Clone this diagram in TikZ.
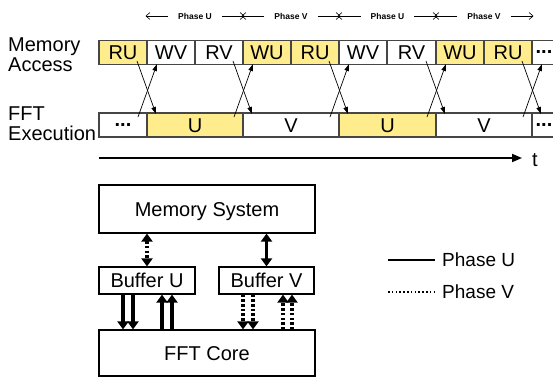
\documentclass[tikz,border=0pt]{standalone}
\usepackage{fontspec}
\setmainfont{Liberation Sans}
\usetikzlibrary{arrows.meta}
\definecolor{cellyellow}{RGB}{255,236,140}
\definecolor{edgegray}{RGB}{70,70,70}
\newcommand{\rsBig}{\fontsize{20}{22}\selectfont}
\newcommand{\rsHdr}{\fontsize{8.5}{10}\selectfont\bfseries}
\newcommand{\rsLeg}{\fontsize{19}{21}\selectfont}
\begin{document}
\begin{tikzpicture}[x=1pt,y=-1pt,
  cell/.style={draw=edgegray,line width=1.2pt,inner sep=0pt,minimum height=23.5pt,text height=14.5pt,text depth=0pt,font=\rsBig},
  ycell/.style={cell,fill=cellyellow},
  wcell/.style={cell,fill=white},
  dots/.style={text height=3pt,font=\rsBig\bfseries},
  lbl/.style={anchor=base west,inner sep=0pt,font=\rsBig},
  hdr/.style={inner sep=0pt,font=\rsHdr},
  harrow/.style={line width=0.6pt,-{Straight Barb[length=4pt,width=7pt]}},
  xarrow/.style={line width=0.7pt,-{Triangle[length=7pt,width=4.5pt]}},
  axisarrow/.style={line width=1.8pt,-{Triangle[length=10pt,width=8pt]}},
  blk/.style={draw,line width=1.2pt,inner sep=0pt,font=\rsBig,text height=14.5pt,text depth=0pt},
  solidarr/.style={line width=3.2pt,-{Triangle[length=8pt,width=11pt]}},
  solidarrb/.style={line width=3.2pt,{Triangle[length=8pt,width=11pt]}-{Triangle[length=8pt,width=11pt]}},
  dotarr/.style={solidarr,dash pattern=on 2.5pt off 2.2pt},
  dotarrb/.style={solidarrb,dash pattern=on 2.5pt off 2.2pt},
  legsolid/.style={line width=2pt},
  legdot/.style={line width=2pt,dash pattern=on 1.6pt off 2.2pt},
  leg/.style={anchor=west,inner sep=0pt,font=\rsLeg,text height=13.5pt,text depth=0pt}
]
\useasboundingbox (0,0) rectangle (553,377);
\clip (0,0) rectangle (553,377);

% header phases
\foreach \c/\a/\b/\t [count=\i] in {195/147/243/U, 291/243/339/V, 387.5/339/436/U, 484/436/532/V} {
  \node[hdr] (h\i) at (\c,16) {Phase \t};
  \coordinate (hl\i) at (\a-1.5,16);
  \coordinate (hr\i) at (\b+1.5,16);
  \draw[harrow] ([xshift=-10pt]h\i.west) -- (hl\i);
  \draw[harrow] ([xshift=10pt]h\i.east) -- (hr\i);
}

% row labels
\node[lbl] (lm1) at (8,52) {Memory};
\node[lbl] (lm2) at (8,72) {Access};
\node[lbl] (lf1) at (8,120) {FFT};
\node[lbl] (lf2) at (8,140) {Execution};

% memory access row
\node[ycell,minimum width=48pt] (m1) at (123,52.5) {RU};
\node[wcell,minimum width=48pt] (m2) at (171,52.5) {WV};
\node[wcell,minimum width=48pt] (m3) at (219,52.5) {RV};
\node[ycell,minimum width=48pt] (m4) at (267,52.5) {WU};
\node[ycell,minimum width=48pt] (m5) at (315,52.5) {RU};
\node[wcell,minimum width=48pt] (m6) at (363,52.5) {WV};
\node[wcell,minimum width=49pt] (m7) at (411.5,52.5) {RV};
\node[ycell,minimum width=48pt] (m8) at (460,52.5) {WU};
\node[ycell,minimum width=48pt] (m9) at (508,52.5) {RU};
\node[wcell,dots,minimum width=24pt] (m10) at (544,52.5) {...};

% FFT execution row
\node[wcell,dots,minimum width=48pt,minimum height=24pt] (f1) at (123,125) {...};
\node[ycell,minimum width=96pt,minimum height=24pt] (f2) at (195,125) {U};
\node[wcell,minimum width=96pt,minimum height=24pt] (f3) at (291,125) {V};
\node[ycell,minimum width=97pt,minimum height=24pt] (f4) at (387.5,125) {U};
\node[wcell,minimum width=96pt,minimum height=24pt] (f5) at (484,125) {V};
\node[wcell,dots,minimum width=24pt,minimum height=24pt] (f6) at (544,125) {...};

% crossing arrows
\foreach \b [count=\i] in {147,243,339,436,532} {
  \coordinate (dA\i) at (\b-10,61);
  \coordinate (dB\i) at (\b+9,114);
  \coordinate (uA\i) at (\b-9,117);
  \coordinate (uB\i) at (\b+10,64);
  \draw[xarrow] (dA\i) -- (dB\i);
  \draw[xarrow] (uA\i) -- (uB\i);
}

% time axis
\coordinate (t0) at (99,158);
\coordinate (t1) at (522,158);
\node[inner sep=0pt,font=\rsBig,text height=14pt,text depth=0pt] (tl) at (535,159) {t};
\draw[axisarrow] (t0) -- (t1);

% block diagram
\node[blk,minimum width=216pt,minimum height=48pt] (ms) at (207,209) {Memory System};
\node[blk,minimum width=96pt,minimum height=27pt] (bu) at (147,280.5) {Buffer U};
\node[blk,minimum width=95pt,minimum height=27pt] (bv) at (266.5,280.5) {Buffer V};
\node[blk,minimum width=216pt,minimum height=46pt] (core) at (207,353) {FFT Core};

\draw[dotarrb] (bu.north |- ms.south) -- (bu.north);
\draw[solidarrb] (bv.north |- ms.south) -- (bv.north);

\coordinate (xu1) at (123,0);
\coordinate (xu2) at (133,0);
\coordinate (xu3) at (162,0);
\coordinate (xu4) at (172,0);
\coordinate (xv1) at (243,0);
\coordinate (xv2) at (253,0);
\coordinate (xv3) at (283,0);
\coordinate (xv4) at (292,0);
\draw[solidarr] (bu.south -| xu1) -- (core.north -| xu1);
\draw[solidarr] (bu.south -| xu2) -- (core.north -| xu2);
\draw[solidarr] (core.north -| xu3) -- (bu.south -| xu3);
\draw[solidarr] (core.north -| xu4) -- (bu.south -| xu4);
\draw[dotarr] (bv.south -| xv1) -- (core.north -| xv1);
\draw[dotarr] (bv.south -| xv2) -- (core.north -| xv2);
\draw[dotarr] (core.north -| xv3) -- (bv.south -| xv3);
\draw[dotarr] (core.north -| xv4) -- (bv.south -| xv4);

% legend
\coordinate (lu1) at (388,260);
\coordinate (lu2) at (435,260);
\coordinate (lv1) at (388,292);
\coordinate (lv2) at (435,292);
\draw[legsolid] (lu1) -- (lu2);
\draw[legdot] (lv1) -- (lv2);
\node[leg] (lgu) at (442,260) {Phase U};
\node[leg] (lgv) at (442,292) {Phase V};
\end{tikzpicture}
\end{document}
